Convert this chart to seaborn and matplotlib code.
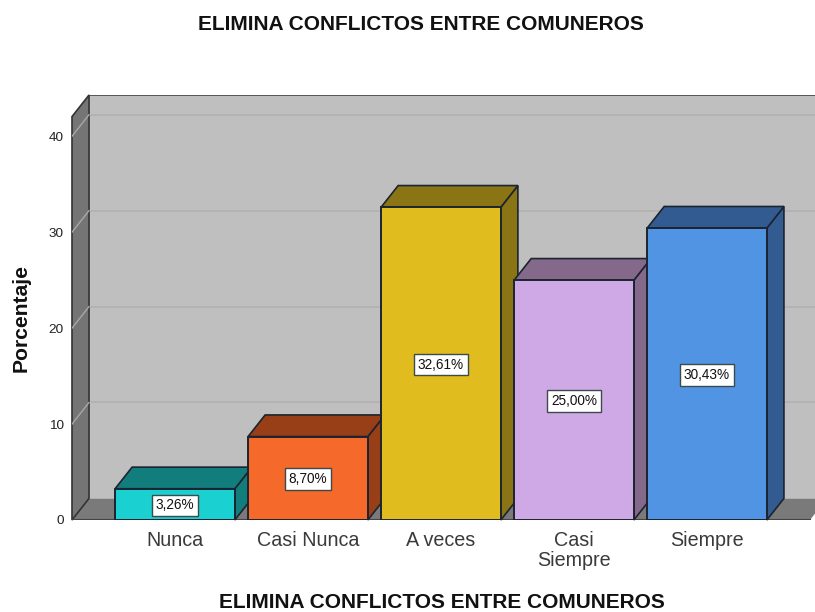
import pandas as pd
import seaborn as sns
import matplotlib.pyplot as plt
from matplotlib.patches import Polygon

CATEGORIES = ["Nunca", "Casi Nunca", "A veces", "Casi\nSiempre", "Siempre"]
VALUES = [3.26, 8.70, 32.61, 25.00, 30.43]
LABELS = ["3,26%", "8,70%", "32,61%", "25,00%", "30,43%"]
COLORS = ["#1bd0d0", "#f5692a", "#e1bc1f", "#cfa9e6", "#5294e4"]
DARK = ["#127d7d", "#983f17", "#8a7413", "#84698b", "#325c91"]
YTICKS = [0, 10, 20, 30, 40]
TITLE = "ELIMINA CONFLICTOS ENTRE COMUNEROS"
EDGE = "#1c2430"

# depth of the fake 3d box, in data units
DX = 0.128
DY = 2.25
X0, X1 = -0.774, 4.774
TOP = 42.05


def poly(ax, pts, color, z, edge=None, lw=1.2):
    ax.add_patch(Polygon(pts, closed=True, facecolor=color,
                         edgecolor=edge if edge else color, lw=lw, zorder=z,
                         clip_on=False))


def draw_box(ax):
    # back wall, floor, left wall
    poly(ax, [(X0 + DX, DY), (X1 + DX, DY), (X1 + DX, TOP + DY), (X0 + DX, TOP + DY)],
         "#bfbfbf", 0.5, lw=0)
    ax.plot([X0 + DX, X1 + DX], [TOP + DY, TOP + DY], color="#444444", lw=1.2, zorder=0.7)
    poly(ax, [(X0, 0), (X1, 0), (X1 + DX, DY), (X0 + DX, DY)], "#7a7a7a", 0.8, lw=0)
    poly(ax, [(X0, 0), (X0 + DX, DY), (X0 + DX, TOP + DY), (X0, TOP)], "#757575", 0.9,
         edge="#333333")
    ax.plot([X0, X1], [0, 0], color="#444444", lw=1.5, zorder=1)
    for t in YTICKS[1:]:
        ax.plot([X0 + DX, X1 + DX], [t + DY, t + DY], color="#b2b2b2", lw=1.3, zorder=0.6)
        ax.plot([X0, X0 + DX], [t, t + DY], color="#a8a8a8", lw=1, zorder=1)


if __name__ == '__main__':
    df = pd.DataFrame({"cat": CATEGORIES, "value": VALUES})
    fig = plt.figure(figsize=(8.15, 6.12), dpi=100)
    plt.rcParams["font.family"] = ["Liberation Sans", "DejaVu Sans"]
    ax = fig.add_axes([72 / 815, 92 / 612, 743 / 815, 425 / 612])
    sns.barplot(ax=ax, data=df, x="cat", y="value", hue="cat", palette=COLORS,
                width=0.9, dodge=False, legend=False, errorbar=None, saturation=1,
                edgecolor=EDGE, linewidth=1.4)
    bars = sorted(ax.patches, key=lambda p: p.get_x())
    for i, b in enumerate(bars):
        x, w, h = b.get_x(), b.get_width(), b.get_height()
        z = 2 + i
        b.set_zorder(z + 0.5)
        poly(ax, [(x + w, 0), (x + w + DX, DY), (x + w + DX, h + DY), (x + w, h)],
             DARK[i], z, edge=EDGE)
        poly(ax, [(x, h), (x + w, h), (x + w + DX, h + DY), (x + DX, h + DY)],
             DARK[i], z, edge=EDGE)
        ax.text(x + w / 2, h / 2 - 0.1, LABELS[i], ha="center", va="center", fontsize=9.8,
                color="#111111", zorder=z + 0.8,
                bbox=dict(boxstyle="square,pad=0.28", facecolor="white",
                          edgecolor="#3c4a4a", lw=1))
    draw_box(ax)

    ax.set_xlim(X0, X1 + 5 / 133)
    ax.set_ylim(0, TOP + DY)
    ax.set_xticks(range(5))
    ax.set_xticklabels(CATEGORIES, fontsize=14.2, color="#3a3a3a", linespacing=1.05)
    ax.set_yticks(YTICKS)
    ax.set_yticklabels(YTICKS, fontsize=9.7, color="#222222")
    ax.tick_params(length=0)
    ax.tick_params(axis="x", pad=8)
    ax.tick_params(axis="y", pad=6)
    for s in ax.spines.values():
        s.set_visible(False)
    ax.set_xlabel("")
    ax.set_ylabel("")
    fig.text(421 / 815, 1 - 25 / 612, TITLE, ha="center", va="center", fontsize=15,
             fontweight="bold", color="#111111")
    fig.text(441.5 / 815, 1 - 602 / 612, TITLE, ha="center", va="center", fontsize=15,
             fontweight="bold", color="#111111")
    fig.text(21 / 815, 1 - 318 / 612, "Porcentaje", ha="center", va="center", rotation=90,
             fontsize=15.2, fontweight="bold", color="#111111")
    fig.savefig("out.png", dpi=100)
